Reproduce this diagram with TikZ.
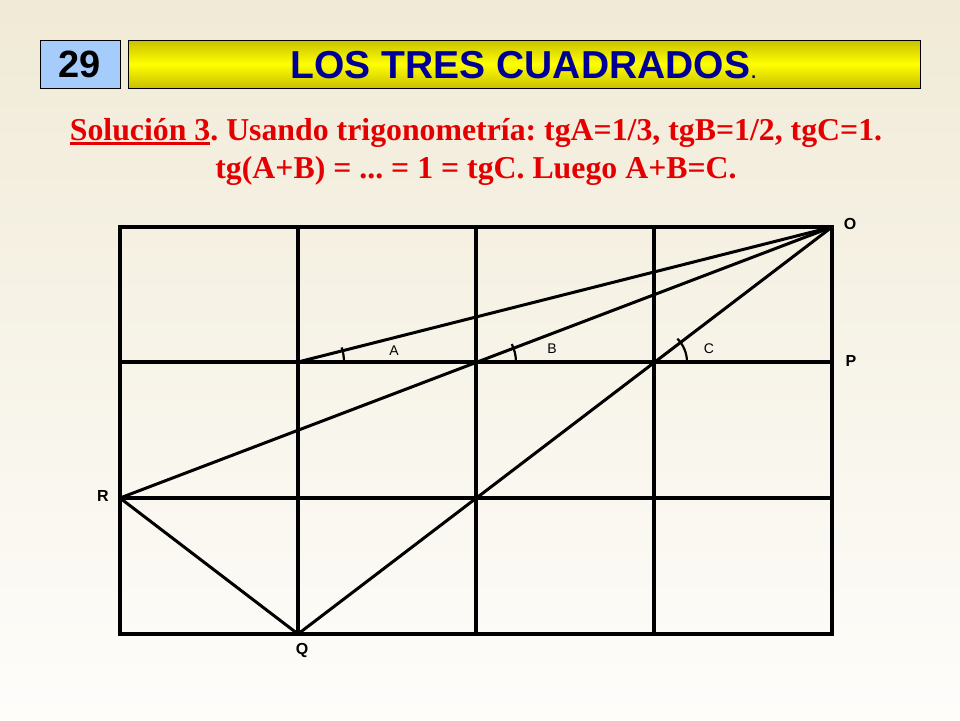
\documentclass[tikz,border=0pt]{standalone}
\usepackage{fontspec}
\setmainfont{Liberation Serif}
\newfontfamily\arialf{Liberation Sans}
\definecolor{bgtop}{RGB}{240,234,214}
\definecolor{bgbot}{RGB}{254,253,251}
\definecolor{numblue}{RGB}{166,204,252}
\definecolor{ydark}{RGB}{200,192,0}
\definecolor{ybright}{RGB}{255,255,0}
\definecolor{navy}{RGB}{0,0,150}
\definecolor{subred}{RGB}{228,0,0}
\frenchspacing
\newcommand{\thickul}[1]{{\setbox0\hbox{#1}\rlap{\rule[-4.5pt]{\wd0}{2.6pt}}\box0}}
\begin{document}
\begin{tikzpicture}[x=1pt,y=-1pt,
  gridline/.style={line width=4pt, line cap=rect},
  diag/.style={line width=3pt, line cap=round},
  anglemark/.style={line width=2.2pt},
  ptlabel/.style={font=\arialf\bfseries\fontsize{16}{16}\selectfont, inner sep=0pt},
  anglabel/.style={font=\arialf\fontsize{14}{14}\selectfont, inner sep=0pt},
]
\useasboundingbox (0,0) rectangle (960,720);
\shade[top color=bgtop, middle color=bgtop, bottom color=bgbot] (0,0) rectangle (960,720);

% header
\node[draw=black, line width=1pt, fill=numblue, minimum width=80pt, minimum height=48pt, inner sep=0pt,
  font=\arialf\bfseries\fontsize{38}{38}\selectfont] (num) at (80,64) {29};
\shade[top color=ydark, bottom color=ybright] (128,40) rectangle (920,64);
\shade[top color=ybright, bottom color=ydark] (128,64) rectangle (920,88);
\node[draw=black, line width=1pt, minimum width=792pt, minimum height=48pt, inner sep=0pt] (titlebox) at (524,64) {};
\node[anchor=base, inner sep=0pt, text=navy, font=\arialf\bfseries\fontsize{39}{39}\selectfont] (title) at (524,78)
  {LOS TRES CUADRADOS{\fontsize{26}{26}\selectfont\mdseries.}};

% subtitle
\node[anchor=base, inner sep=0pt, text=subred, font=\bfseries\fontsize{31.8}{31.8}\selectfont] (sub1) at (476,140)
  {\thickul{Solución 3}. Usando trigonometría: tgA=1/3, tgB=1/2, tgC=1.};
\node[anchor=base, inner sep=0pt, text=subred, font=\bfseries\fontsize{31.8}{31.8}\selectfont] (sub2) at (476,178)
  {tg(A+B) = ... = 1 = tgC. Luego A+B=C.};

% grid points
\foreach \i/\x in {0/120,1/298,2/476,3/654,4/832}{
  \foreach \j/\y in {0/227,1/362,2/498,3/634}{
    \coordinate (g\i\j) at (\x,\y);
  }
}
\coordinate (O) at (g40);
\coordinate (P) at (g41);
\coordinate (R) at (g02);
\coordinate (Q) at (g13);

% grid
\foreach \j in {0,1,2,3}{\draw[gridline] (g0\j) -- (g4\j);}
\foreach \i in {0,1,2,3,4}{\draw[gridline] (g\i0) -- (g\i3);}

% diagonals
\draw[diag] (O) -- (g11);
\draw[diag] (O) -- (R);
\draw[diag] (O) -- (Q);
\draw[diag] (R) -- (Q);

% angle marks
\draw[anglemark] ([xshift=46pt]g11) arc[start angle=0, end angle=18.43, radius=46pt];
\draw[anglemark] ([xshift=40pt]g21) arc[start angle=0, end angle=26.57, radius=40pt];
\draw[anglemark] ([xshift=33pt]g31) arc[start angle=0, end angle=45, radius=33pt];

% labels
\node[anglabel] (lA) at (394,351) {A};
\node[anglabel] (lB) at (552,349) {B};
\node[anglabel] (lC) at (709,349) {C};
\node[ptlabel] (lO) at (850,224) {O};
\node[ptlabel] (lP) at (851,361) {P};
\node[ptlabel] (lR) at (103,496) {R};
\node[ptlabel] (lQ) at (302,650) {Q};
\end{tikzpicture}
\end{document}
